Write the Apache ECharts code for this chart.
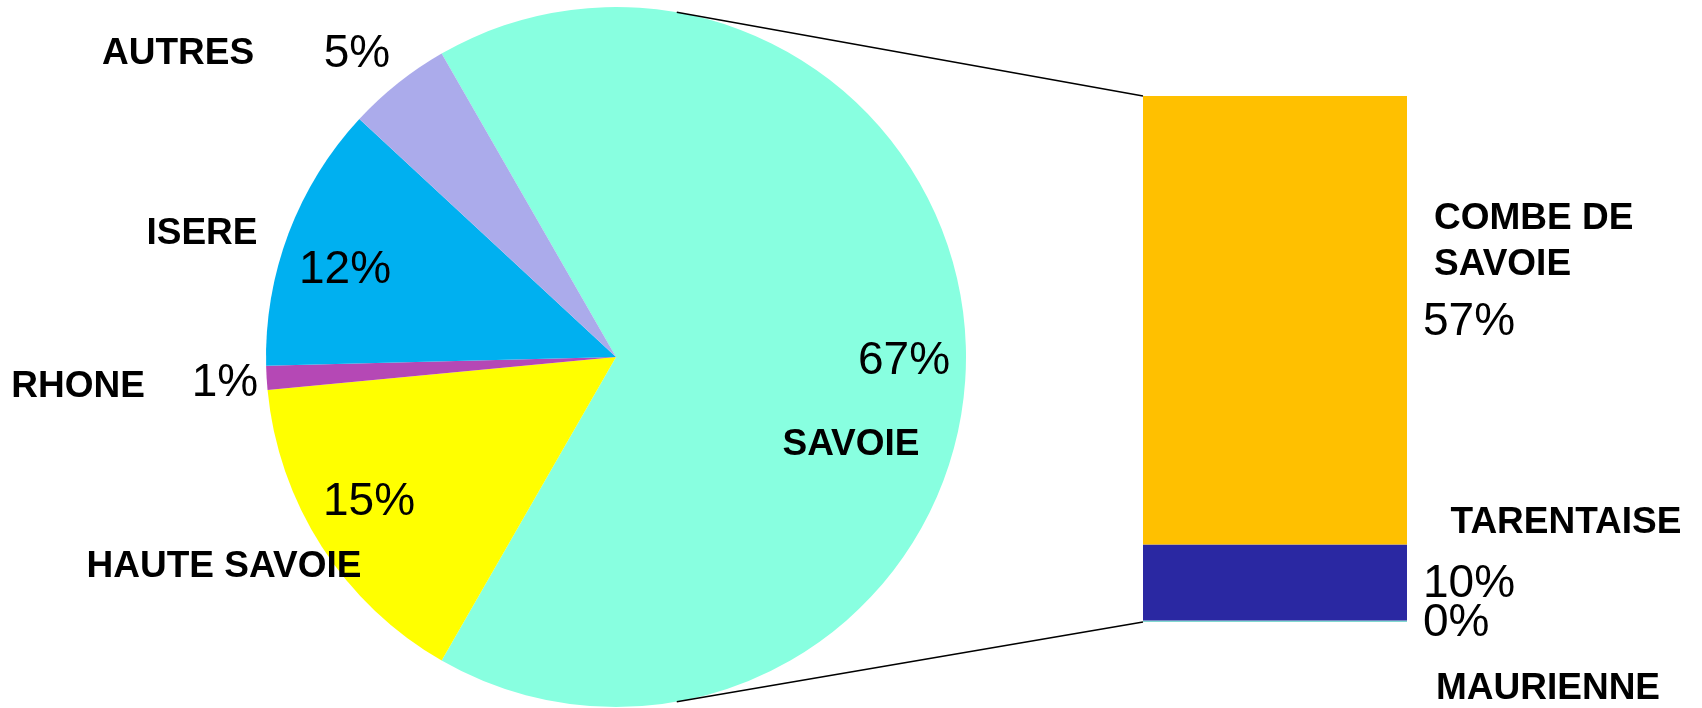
<!DOCTYPE html>
<html>
<head>
<meta charset="utf-8">
<script src="https://cdn.jsdelivr.net/npm/echarts@6/dist/echarts.min.js"></script>
<style>
html,body{margin:0;padding:0;background:#fff;}
#c{width:1702px;height:708px;}
</style>
</head>
<body>
<div id="c"></div>
<script>
// ---- data ----
const regions = ['SAVOIE', 'HAUTE SAVOIE', 'RHONE', 'ISERE', 'AUTRES'];
const shares = [66.6, 15.2, 1.1, 12.3, 4.8];
const subRegions = ['MAURIENNE', 'TARENTAISE', 'COMBE DE\nSAVOIE'];
const subShares = [0.2, 9.6, 56.8];

// ---- styling / layout ----
const pieColors = ['#88FFE0', '#FFFF00', '#B548B5', '#00B0F0', '#ABABEB'];
const barColors = ['#7FD8D0', '#2A28A2', '#FFC000'];
const PIE = {cx: 616, cy: 357, r: 350};
const BAR = {left: 1143, top: 96, width: 264, height: 526};
const FONT = '"Liberation Sans", Arial, sans-serif';
const pctPos = [[904, 361], [369, 502], [225, 383], [345, 270], [357, 54]];
const namePos = [[851, 445, 'center'], [224, 567, 'center'], [78, 387, 'center'], [202, 234, 'center'], [178, 54, 'center']];
const subNamePos = [[1548, 689, 'center'], [1566, 523, 'center'], [1434, 242, 'left']];
const connAngle = 80;

const chart = echarts.init(document.getElementById('c'), null, {renderer: 'canvas'});
const total = subShares.reduce((a, b) => a + b, 0);

const graphics = [];
const rad = connAngle * Math.PI / 180;
const sx = PIE.cx + PIE.r * Math.cos(rad);
graphics.push({type: 'line', shape: {x1: sx, y1: PIE.cy - PIE.r * Math.sin(rad), x2: BAR.left, y2: BAR.top}, style: {stroke: '#000', lineWidth: 1.5}, z: 10});
graphics.push({type: 'line', shape: {x1: sx, y1: PIE.cy + PIE.r * Math.sin(rad), x2: BAR.left, y2: BAR.top + BAR.height}, style: {stroke: '#000', lineWidth: 1.5}, z: 10});
regions.forEach((n, i) => {
  graphics.push({type: 'text', x: namePos[i][0], y: namePos[i][1], z: 20,
    style: {text: n, fill: '#000', font: 'bold 37px ' + FONT, textAlign: namePos[i][2], textVerticalAlign: 'middle'}});
});
subRegions.forEach((n, i) => {
  graphics.push({type: 'text', x: subNamePos[i][0], y: subNamePos[i][1], z: 20,
    style: {text: n, fill: '#000', font: 'bold 37px ' + FONT, textAlign: subNamePos[i][2], textVerticalAlign: 'middle', lineHeight: 46}});
});

const barSeries = subRegions.map((n, i) => ({
  type: 'bar', name: n, stack: 'sub', xAxisIndex: 0, yAxisIndex: 0,
  data: [subShares[i]], barWidth: '100%',
  itemStyle: {color: barColors[i]},
  label: {show: true, position: 'right', distance: 16, offset: [0, 2],
    formatter: p => Math.round(p.value) + '%', color: '#000', fontSize: 46, fontFamily: FONT},
  silent: true, animation: false
}));

chart.setOption({
  animation: false,
  backgroundColor: '#fff',
  grid: {left: BAR.left, top: BAR.top, width: BAR.width, height: BAR.height},
  xAxis: {type: 'category', data: ['SAVOIE'], show: false, boundaryGap: true},
  yAxis: {type: 'value', min: 0, max: total, show: false},
  graphic: graphics,
  series: [{
    type: 'pie',
    center: [PIE.cx, PIE.cy],
    radius: PIE.r,
    startAngle: shares[0] / 100 * 180,
    clockwise: true,
    avoidLabelOverlap: false,
    silent: true,
    data: regions.map((n, i) => ({name: n, value: shares[i], itemStyle: {color: pieColors[i]}})),
    label: {show: true, position: 'inside', formatter: p => Math.round(p.value) + '%',
      color: '#000', fontSize: 46, fontFamily: FONT},
    labelLine: {show: false},
    labelLayout: p => ({x: pctPos[p.dataIndex][0], y: pctPos[p.dataIndex][1], align: 'center', verticalAlign: 'middle'}),
    itemStyle: {borderWidth: 0}
  }].concat(barSeries)
});
</script>
</body>
</html>
